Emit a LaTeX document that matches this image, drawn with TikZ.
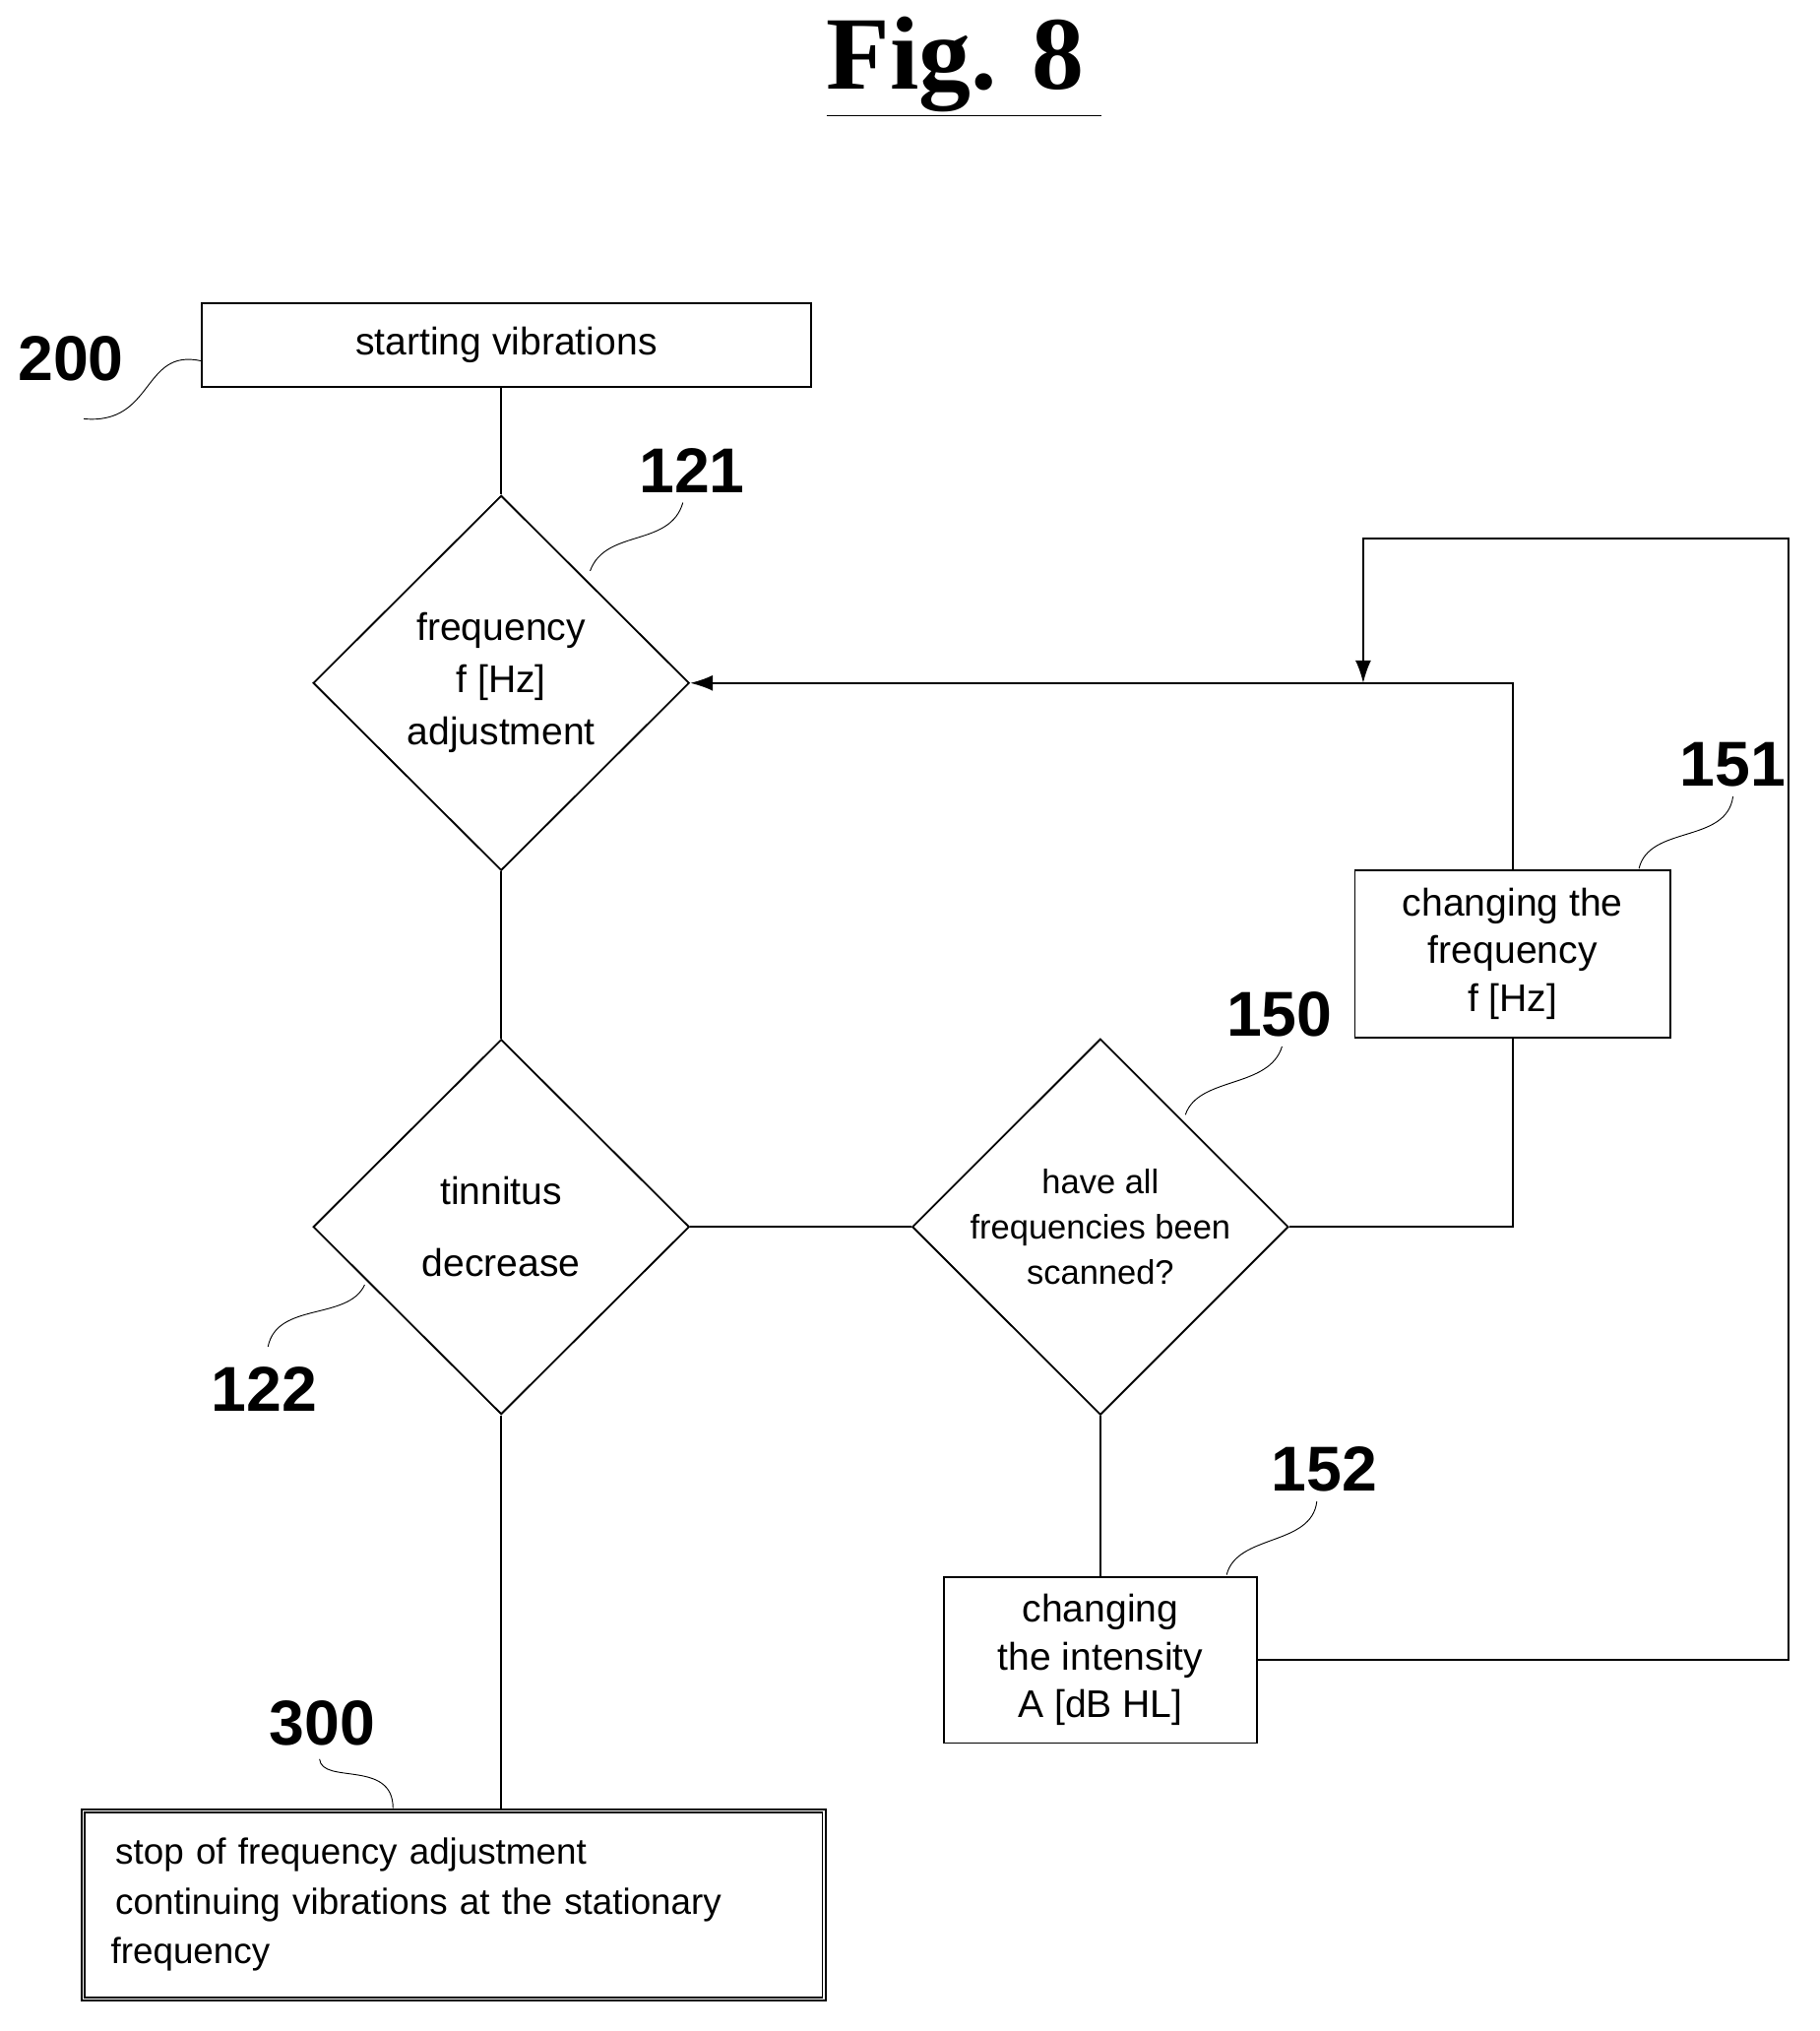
\documentclass[tikz,border=0pt]{standalone}
\usepackage{fontspec}
\setmainfont{Liberation Sans}
\newfontfamily\titlefont{Liberation Serif}
\usetikzlibrary{shapes.geometric}
\usetikzlibrary{arrows.meta}

\begin{document}
\begin{tikzpicture}[x=0.02cm,y=-0.02cm,
      stepbox/.style={draw,thick,rectangle,inner sep=0pt,align=center,font=\fontsize{17}{21}\selectfont},
      testdiamond/.style={draw,thick,diamond,minimum width=5.84cm,minimum height=5.82cm,inner sep=0pt,align=center,font=\fontsize{17}{23}\selectfont},
      reflabel/.style={font=\fontsize{28}{28}\selectfont\bfseries},
      leader/.style={thin},
      flow/.style={thick},
      arrowflow/.style={thick,-{Latex[length=10pt,width=7pt]}}]
    % Frame
    \useasboundingbox (0,0) rectangle (1412,1576);
    \node[font=\titlefont\fontsize{46}{46}\selectfont\bfseries] (title) at (748,52) {\underline{Fig. 8\,}};

    % Blocks
    \node[stepbox,minimum width=9.46cm,minimum height=1.3cm] (start)  at (393,268)  {starting vibrations};
    \node[testdiamond]                                        (adjust) at (389,530)  {frequency\\f [Hz]\\adjustment};
    \node[testdiamond,font=\fontsize{17}{32}\selectfont]      (tinn)   at (389,952)  {tinnitus\\decrease};
    \node[testdiamond,font=\fontsize{15}{20}\selectfont]      (scan)   at (854,952)  {have all\\frequencies been\\scanned?};
    \node[stepbox,minimum width=4.9cm,minimum height=2.6cm]  (chfreq) at (1174,740) {changing the\\frequency\\f [Hz]};
    \node[stepbox,minimum width=4.86cm,minimum height=2.58cm](chint)  at (854,1288) {changing\\the intensity\\A [dB HL]};
    \node[stepbox,double,minimum height=2.92cm,text width=10.5cm,inner xsep=0.5cm,align=left,font=\fontsize{16}{22}\selectfont] (stop) at (352,1478)
      {\raggedright stop of frequency adjustment\\continuing vibrations at the stationary\\\hspace*{-2pt}frequency};

    % Reference numerals
    \node[reflabel] (n200) at (55,278)   {200};
    \node[reflabel] (n121) at (537,365)  {121};
    \node[reflabel] (n122) at (205,1078) {122};
    \node[reflabel] (n150) at (993,787)  {150};
    \node[reflabel] (n151) at (1345,593) {151};
    \node[reflabel] (n152) at (1028,1140){152};
    \node[reflabel] (n300) at (250,1337) {300};

    % Leaders
    \draw[leader] (start.west) ++(0,12) .. controls (110,270) and (120,330) .. (65,325);
    \draw[leader] (458,443) .. controls (470,410) and (520,425) .. (530,390);
    \draw[leader] (283,997) .. controls (270,1025) and (215,1010) .. (208,1045);
    \draw[leader] (920,865) .. controls (930,835) and (985,845) .. (995,812);
    \draw[leader] (1272,674) .. controls (1280,640) and (1340,655) .. (1345,618);
    \draw[leader] (952,1222) .. controls (960,1190) and (1018,1200) .. (1022,1165);
    \draw[leader] (305,1403) .. controls (305,1365) and (250,1385) .. (248,1365);

    % Arrows
    \draw[flow] (start.south -| adjust) -- (adjust);
    \draw[flow] (adjust) -- (tinn);
    \draw[flow] (tinn) -- (scan);
    \draw[flow] (tinn) -- (stop.north -| tinn);
    \draw[flow] (scan) -- (chint);
    \draw[flow] (scan.east) -| (chfreq.south);
    \draw[arrowflow] (chfreq.north) |- (adjust.east);
    \coordinate (loop) at (1058,530);
    \draw[arrowflow] (chint.east) -| (1388,418) -| (loop);
  \end{tikzpicture}
\end{document}
